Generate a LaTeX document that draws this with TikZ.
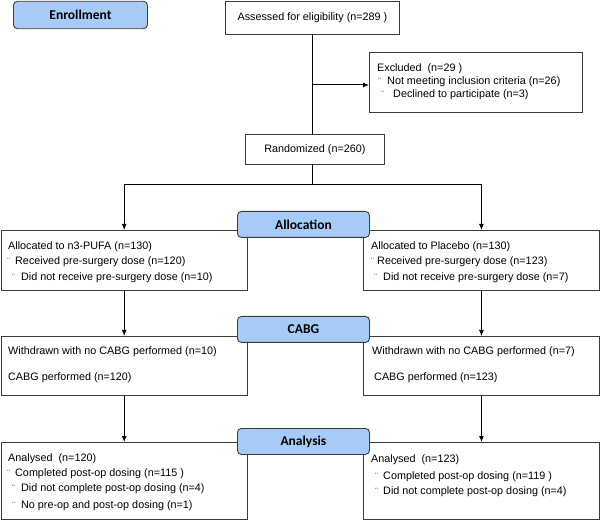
\documentclass[tikz,border=0pt]{standalone}
\usepackage{fontspec}
\setmainfont{Liberation Sans}
\newfontfamily\labelfont{Carlito}
\usetikzlibrary{arrows.meta}
\definecolor{labelblue}{RGB}{166,203,246}
\definecolor{edgegrey}{RGB}{60,60,60}
\tikzset{
 box/.style={draw=edgegrey, line width=0.9pt, fill=white, anchor=north west, inner sep=0, font=\fontsize{10.8}{12}\selectfont},
 stagebox/.style={draw=edgegrey, line width=0.9pt, fill=labelblue, rounded corners=4pt, anchor=north west, inner sep=0, minimum width=132pt, minimum height=26pt, font=\labelfont\bfseries\fontsize{13.5}{14}\selectfont},
 txt/.style={anchor=base west, inner sep=0, font=\fontsize{10.8}{12}\selectfont},
 bul/.style={anchor=base west, inner sep=0, text=black!80, font=\fontsize{9}{9}\selectfont},
 flow/.style={draw=black, line width=0.9pt},
 arr/.style={flow, -{Latex[length=6pt,width=5pt]}},
}
\begin{document}
\begin{tikzpicture}[x=1pt,y=-1pt]
\useasboundingbox (0,0) rectangle (600,521);
% boxes
\node[box, minimum width=174pt, minimum height=33pt] (assess) at (225,1) {Assessed for eligibility (n=289 )};
\node[box, minimum width=213pt, minimum height=60pt] (excl) at (369,52.5) {};
\node[box, minimum width=139pt, minimum height=30pt] (rand) at (245,134) {Randomized (n=260)};
\node[box, minimum width=246.5pt, minimum height=60pt] (allocL) at (0.5,230) {};
\node[box, minimum width=236pt, minimum height=60pt] (allocR) at (363,230) {};
\node[box, minimum width=246.5pt, minimum height=59pt] (cabgL) at (0.5,336) {};
\node[box, minimum width=236pt, minimum height=59pt] (cabgR) at (363,336) {};
\node[box, minimum width=246.5pt, minimum height=77pt] (anaL) at (0.5,442) {};
\node[box, minimum width=236pt, minimum height=77pt] (anaR) at (363,442) {};
% connectors
\coordinate (split) at (312,184);
\draw[flow] (assess.south) -- (assess.south |- rand.north);
\draw[arr] ([yshift=-2pt]excl.west -| assess.south) -- ([yshift=-2pt]excl.west);
\draw[flow] (rand.south -| split) -- (split);
\draw[arr] (split) -| (allocL.north);
\draw[arr] (split) -| (allocR.north);
\draw[arr] (allocL.south) -- (cabgL.north);
\draw[arr] (allocR.south) -- (cabgR.north);
\draw[arr] (cabgL.south) -- (anaL.north);
\draw[arr] (cabgR.south) -- (anaR.north);
% stage labels
\node[stagebox, minimum width=134pt, minimum height=27.5pt] (enroll) at (13,0.8) {Enrollment};
\node[stagebox] (allocation) at (237,211) {Allocation};
\node[stagebox] (cabg) at (237,316) {CABG};
\node[stagebox] (analysis) at (237,428) {Analysis};
% excluded texts
\node[txt] (ex1) at (377,72) {Excluded\ \ (n=29 )};
\node[bul] (exb1) at (378,85) {¨};
\node[txt] (ex2) at (387,85) {Not meeting inclusion criteria (n=26)};
\node[bul] (exb2) at (381,98) {¨};
\node[txt] (ex3) at (393,98) {Declined to participate (n=3)};
% allocation left
\node[txt] (al1) at (8,250) {Allocated to n3-PUFA (n=130)};
\node[bul] (alb2) at (7,265) {¨};
\node[txt] (al2) at (15,265) {Received pre-surgery dose (n=120)};
\node[bul] (alb3) at (12,281) {¨};
\node[txt] (al3) at (21,281) {Did not receive pre-surgery dose (n=10)};
% allocation right
\node[txt] (ar1) at (371,250) {Allocated to Placebo (n=130)};
\node[bul] (arb2) at (371,265) {¨};
\node[txt] (ar2) at (377,265) {Received pre-surgery dose (n=123)};
\node[bul] (arb3) at (374,281) {¨};
\node[txt] (ar3) at (383,281) {Did not receive pre-surgery dose (n=7)};
% cabg
\node[txt] (cl1) at (8,355) {Withdrawn with no CABG performed (n=10)};
\node[txt] (cl2) at (8,381) {CABG performed (n=120)};
\node[txt] (cr1) at (372,355) {Withdrawn with no CABG performed (n=7)};
\node[txt] (cr2) at (374,381) {CABG performed (n=123)};
% analysis left
\node[txt] (nl1) at (8,461) {Analysed\ \ (n=120)};
\node[bul] (nlb2) at (7,476) {¨};
\node[txt] (nl2) at (15,476) {Completed post-op dosing (n=115 )};
\node[bul] (nlb3) at (12,491) {¨};
\node[txt] (nl3) at (21,491) {Did not complete post-op dosing (n=4)};
\node[bul] (nlb4) at (12,508) {¨};
\node[txt] (nl4) at (21,508) {No pre-op and post-op dosing (n=1)};
% analysis right
\node[txt] (nr1) at (371,462) {Analysed\ \ (n=123)};
\node[bul] (nrb2) at (375,479) {¨};
\node[txt] (nr2) at (383,479) {Completed post-op dosing (n=119 )};
\node[bul] (nrb3) at (375,494) {¨};
\node[txt] (nr3) at (383,494) {Did not complete post-op dosing (n=4)};
\end{tikzpicture}
\end{document}
